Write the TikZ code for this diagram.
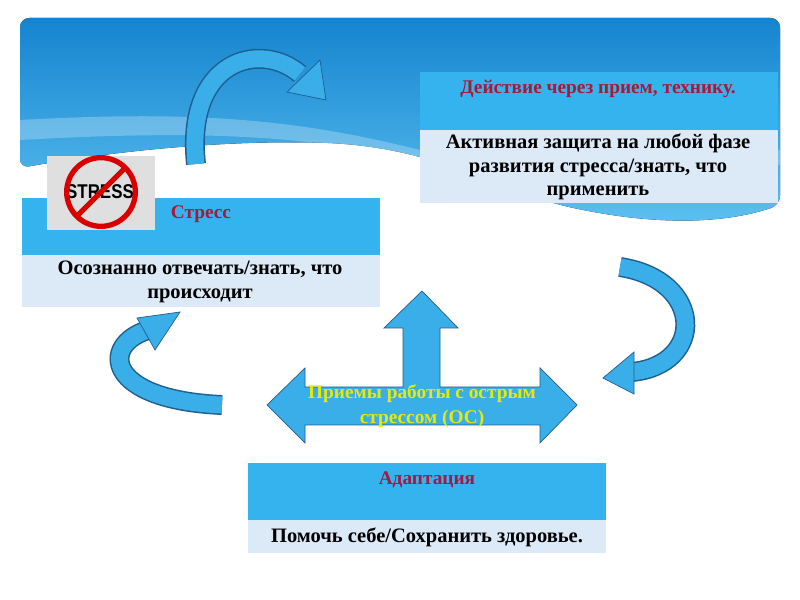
\documentclass[tikz,border=0pt]{standalone}
\usepackage{fontspec}
\setmainfont{Liberation Serif}
\setsansfont{Liberation Sans}
\usetikzlibrary{shadings}
\definecolor{hdr}{HTML}{35B3EE}
\definecolor{lite}{HTML}{DCE9F6}
\definecolor{ttl}{HTML}{A8183C}
\definecolor{arr}{HTML}{3AAEE8}
\definecolor{arrd}{HTML}{1F5F8F}
\definecolor{skyA}{HTML}{1584CF}
\definecolor{skyB}{HTML}{5CC0F0}
\begin{document}
\begin{tikzpicture}[x=0.03cm,y=-0.03cm,
  hdrbox/.style={fill=hdr,draw=none},
  litebox/.style={fill=lite,draw=none},
  title/.style={font=\fontsize{16.5}{19}\selectfont\bfseries,text=ttl},
  body/.style={font=\fontsize{17.5}{20}\selectfont\bfseries,align=center,text=black},
  band/.style={line width=20*0.85pt,draw=arrd,line cap=butt},
  bandin/.style={line width=17*0.85pt,draw=arr,line cap=butt},
  head/.style={fill=arr,draw=arrd,line width=0.6pt,line join=miter}]
\useasboundingbox (0,0) rectangle (800,600);
\fill[white] (0,0) rectangle (800,600);
% sky
\fill[rounded corners=8, top color=skyA, bottom color=skyB]
  (20,18) -- (780,18) -- (780,205) .. controls (720,225) and (650,225) .. (560,205)
  .. controls (480,180) and (430,150) .. (330,143) .. controls (230,140) and (120,150) .. (20,168) -- cycle;
\fill[white,opacity=0.25] (20,120) .. controls (200,110) and (300,120) .. (420,150)
  .. controls (470,160) and (600,150) .. (780,150) -- (780,165) .. controls (600,170) and (480,175) .. (420,160)
  .. controls (300,135) and (200,130) .. (20,140) -- cycle;
% boxes
\node[hdrbox,minimum width=358*0.03cm,minimum height=58*0.03cm,anchor=north west] (h1) at (420,72) {};
\node[litebox,minimum width=358*0.03cm,minimum height=73*0.03cm,anchor=north west] (b1) at (420,130) {};
\node[title] (t1) at (598,89) {Действие через прием, технику.};
\node[body] (x1) at (598,167) {Активная защита на любой фазе\\развития стресса/знать, что\\применить};
\node[hdrbox,minimum width=358*0.03cm,minimum height=57*0.03cm,anchor=north west] (h2) at (22,198) {};
\node[litebox,minimum width=358*0.03cm,minimum height=52*0.03cm,anchor=north west] (b2) at (22,255) {};
\node[title] (t2) at (201,214) {Стресс};
\node[body] (x2) at (200,282) {Осознанно отвечать/знать, что\\происходит};
\node[hdrbox,minimum width=358*0.03cm,minimum height=57*0.03cm,anchor=north west] (h3) at (248,463) {};
\node[litebox,minimum width=358*0.03cm,minimum height=33*0.03cm,anchor=north west] (b3) at (248,520) {};
\node[title] (t3) at (427,480) {Адаптация};
\node[body] (x3) at (427,537) {Помочь себе/Сохранить здоровье.};
% stress icon
\fill[gray!25] (47,156) rectangle (155,230);
\node[font=\sffamily\bfseries\fontsize{17}{17}\selectfont,text=black,xscale=0.85] (st) at (100,192) {STRESS};
\draw[red!85!black,line width=4.5pt] (101,192) circle (33*1.04);
\draw[red!85!black,line width=4.5pt] (78,215) -- (124,169);
% curved arrows
\draw[band] (196,164) .. controls (185,60) and (260,40) .. (300,74);
\draw[bandin] (196,164) .. controls (185,60) and (260,40) .. (300,74);
\draw[head] (287,92) -- (320,60) -- (326,100) -- cycle;
\draw[band] (620,267) .. controls (705,280) and (705,365) .. (632,372);
\draw[bandin] (620,267) .. controls (705,280) and (705,365) .. (632,372);
\draw[head] (634,352) -- (634,394) -- (603,378) -- cycle;
\draw[band] (222,405) .. controls (105,400) and (100,345) .. (148,330);
\draw[bandin] (222,405) .. controls (105,400) and (100,345) .. (148,330);
\draw[head] (137,318) -- (155,350) -- (180,312) -- cycle;
% cross arrow
\draw[head] (267,405) -- (305,368) -- (305,387) -- (403,387) -- (403,328) -- (384,328) -- (422,291)
  -- (458,328) -- (440,328) -- (440,387) -- (540,387) -- (540,368) -- (577,405) -- (540,443)
  -- (540,425) -- (305,425) -- (305,443) -- cycle;
\node[font=\fontsize{16.5}{21}\selectfont\bfseries,text=yellow!90!green,align=center] (cr) at (422,406) {Приемы работы с острым\\стрессом (ОС)};
\end{tikzpicture}
\end{document}
